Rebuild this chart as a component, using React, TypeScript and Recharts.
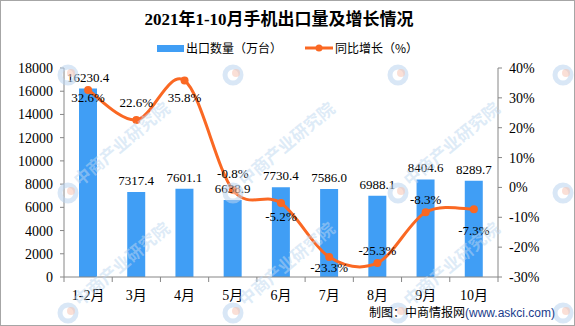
import React from 'react';
import { ComposedChart, Bar, Line, XAxis, YAxis, LabelList, Legend } from 'recharts';

const categories = ['1-2月', '3月', '4月', '5月', '6月', '7月', '8月', '9月', '10月'];
const exportVolume = [16230.4, 7317.4, 7601.1, 6638.9, 7730.4, 7586.0, 6988.1, 8404.6, 8289.7];
const yoyGrowth = [32.6, 22.6, 35.8, -0.8, -5.2, -23.3, -25.3, -8.3, -7.3];
const leftTicks = [0, 2000, 4000, 6000, 8000, 10000, 12000, 14000, 16000, 18000];
const rightTicks = [-30, -20, -10, 0, 10, 20, 30, 40];

// label placement (style): vertical offset of each growth label from its point
const growthLabelDy = [7, -17, 17, -16, 14, 11, -12, -13, 21];

// watermark grid (decoration)
const wmCols = [68, 233, 398, 563];
const wmRows = [75, 193, 313];
const wmText = '中商产业研究院';

const BAR = '#409ef5';
const ORANGE = '#fa6823';
const AXIS = '#868686';
const SERIF = "'Liberation Serif', 'Times New Roman', 'Noto Sans CJK SC', serif";
const CJK = "'Noto Sans CJK SC', sans-serif";

const data = categories.map((c, i) => ({ month: c, volume: exportVolume[i], growth: yoyGrowth[i] }));

const catmullRom = (context: any) => {
  let pts: number[][] = [];
  return {
    areaStart() {},
    areaEnd() {},
    lineStart() {
      pts = [];
    },
    point(x: number, y: number) {
      pts.push([+x, +y]);
    },
    lineEnd() {
      const n = pts.length;
      if (!n) return;
      context.moveTo(pts[0][0], pts[0][1]);
      for (let i = 0; i < n - 1; i++) {
        const p0 = pts[i > 0 ? i - 1 : i];
        const p1 = pts[i];
        const p2 = pts[i + 1];
        const p3 = pts[i + 2 < n ? i + 2 : i + 1];
        context.bezierCurveTo(
          p1[0] + (p2[0] - p0[0]) / 6,
          p1[1] + (p2[1] - p0[1]) / 6,
          p2[0] - (p3[0] - p1[0]) / 6,
          p2[1] - (p3[1] - p1[1]) / 6,
          p2[0],
          p2[1]
        );
      }
    },
  };
};

const MonthTick = (props: any) => {
  const { x, y, payload } = props;
  const idx = props.index ?? payload.index ?? categories.indexOf(payload.value);
  const half = typeof payload.offset === 'number' && payload.offset > 0 ? payload.offset : 434 / 9 / 2;
  const isLast = idx === categories.length - 1;
  return (
    <g>
      <line x1={x - half} x2={x - half} y1={y} y2={y + 5} stroke={AXIS} />
      {isLast && <line x1={x + half} x2={x + half} y1={y} y2={y + 5} stroke={AXIS} />}
      <text x={x} y={y + 18} textAnchor="middle" dominantBaseline="central" fontSize={14} fontFamily={SERIF} fill="#000">
        {payload.value}
      </text>
    </g>
  );
};

const GrowthLabel = (props: any) => {
  const { x, y, value } = props;
  const i = typeof props.index === 'number' ? props.index : yoyGrowth.indexOf(value);
  return (
    <text x={x} y={y + growthLabelDy[i]} textAnchor="middle" dominantBaseline="central" fontSize={13} fontFamily={SERIF} fill="#000">
      {Number(value).toFixed(1)}%
    </text>
  );
};

const LegendContent = () => (
  <div style={{ display: 'flex', justifyContent: 'center', alignItems: 'center', fontFamily: CJK, fontSize: 12, color: '#000', height: 18, lineHeight: '18px' }}>
    <span style={{ display: 'inline-block', width: 27, height: 7, background: BAR }} />
    <span style={{ marginLeft: 2 }}>出口数量（万台）</span>
    <svg width={28} height={10} style={{ marginLeft: 23 }}>
      <line x1={0} x2={28} y1={5} y2={5} stroke={ORANGE} strokeWidth={3} />
      <circle cx={14} cy={5} r={3.5} fill={ORANGE} />
    </svg>
    <span style={{ marginLeft: 2 }}>同比增长（%）</span>
  </div>
);

const Watermarks = () => (
  <svg width={575} height={326} style={{ position: 'absolute', left: 0, top: 0, pointerEvents: 'none' }}>
    {wmCols.map((cx) =>
      wmRows.map((cy) => {
        const showText = cx + 12 + 95 < 575 && cy - 6 - 80 > 0;
        return (
          <g key={`${cx}-${cy}`}>
            <circle cx={cx} cy={cy} r={8} fill="none" stroke="rgba(185,212,238,0.55)" strokeWidth={5} />
            <circle cx={cx + 3} cy={cy - 2} r={4} fill="rgba(246,196,180,0.55)" />
            {showText && (
              <text
                transform={`translate(${cx + 12},${cy - 6}) rotate(-40)`}
                fontSize={17}
                fontWeight="bold"
                fontFamily={CJK}
                fill="rgba(190,215,240,0.5)"
              >
                {wmText}
              </text>
            )}
          </g>
        );
      })
    )}
  </svg>
);

export default function App() {
  return (
    <div style={{ position: 'absolute', left: 0, top: 0, width: 575, height: 326, background: '#fff' }}>
      <div
        style={{
          position: 'absolute', left: 0, top: 8, width: 558, textAlign: 'center', fontFamily: SERIF,
          fontWeight: 'bold', fontSize: 17, lineHeight: '24px', color: '#000',
        }}
      >
        2021年1-10月手机出口量及增长情况
      </div>
      <ComposedChart width={575} height={326} data={data} margin={{ top: 68, right: 17, bottom: 19, left: 0 }}>
        <Legend
          layout="horizontal"
          verticalAlign="middle"
          align="center"
          content={<LegendContent />}
          wrapperStyle={{ top: 39, left: 0, width: 575, height: 18 }}
        />
        <XAxis
          dataKey="month"
          stroke={AXIS}
          tickLine={false}
          tickSize={0}
          tickMargin={0}
          height={30}
          tick={<MonthTick />}
          interval={0}
        />
        <YAxis
          yAxisId="left"
          orientation="left"
          width={64}
          domain={[0, 18000]}
          ticks={leftTicks}
          interval={0}
          stroke={AXIS}
          tickSize={4}
          tickMargin={7}
          tick={{ fontSize: 14, fill: '#000', fontFamily: SERIF }}
        />
        <YAxis
          yAxisId="right"
          orientation="right"
          width={60}
          domain={[-30, 40]}
          ticks={rightTicks}
          interval={0}
          stroke={AXIS}
          tickSize={4}
          tickMargin={7}
          tickFormatter={(v: number) => `${v}%`}
          tick={{ fontSize: 14, fill: '#000', fontFamily: SERIF }}
        />
        <Bar yAxisId="left" dataKey="volume" fill={BAR} barSize={18} isAnimationActive={false}>
          <LabelList
            dataKey="volume"
            position="top"
            offset={7}
            formatter={(v: any) => Number(v).toFixed(1)}
            style={{ fontSize: 13, fontFamily: SERIF, fill: '#000' }}
          />
        </Bar>
        <Line
          yAxisId="right"
          dataKey="growth"
          type={catmullRom as any}
          stroke={ORANGE}
          strokeWidth={3}
          dot={{ r: 4, fill: ORANGE, stroke: ORANGE, strokeWidth: 0 }}
          activeDot={false}
          isAnimationActive={false}
        >
          <LabelList dataKey="growth" content={<GrowthLabel />} />
        </Line>
      </ComposedChart>
      <Watermarks />
      <div
        style={{
          position: 'absolute', left: 369, top: 304, fontSize: 12, lineHeight: '16px', whiteSpace: 'nowrap',
          fontFamily: "'Noto Sans CJK SC', 'Liberation Sans', sans-serif", color: '#000',
        }}
      >
        制图：中商情报网<span style={{ color: '#1a3c8c', fontFamily: "'Liberation Sans', sans-serif" }}>(www.askci.com)</span>
      </div>
      <div style={{ position: 'absolute', left: 0, top: 0, width: 575, height: 326, boxSizing: 'border-box', border: '1px solid #a6a6a6', pointerEvents: 'none' }} />
    </div>
  );
}
